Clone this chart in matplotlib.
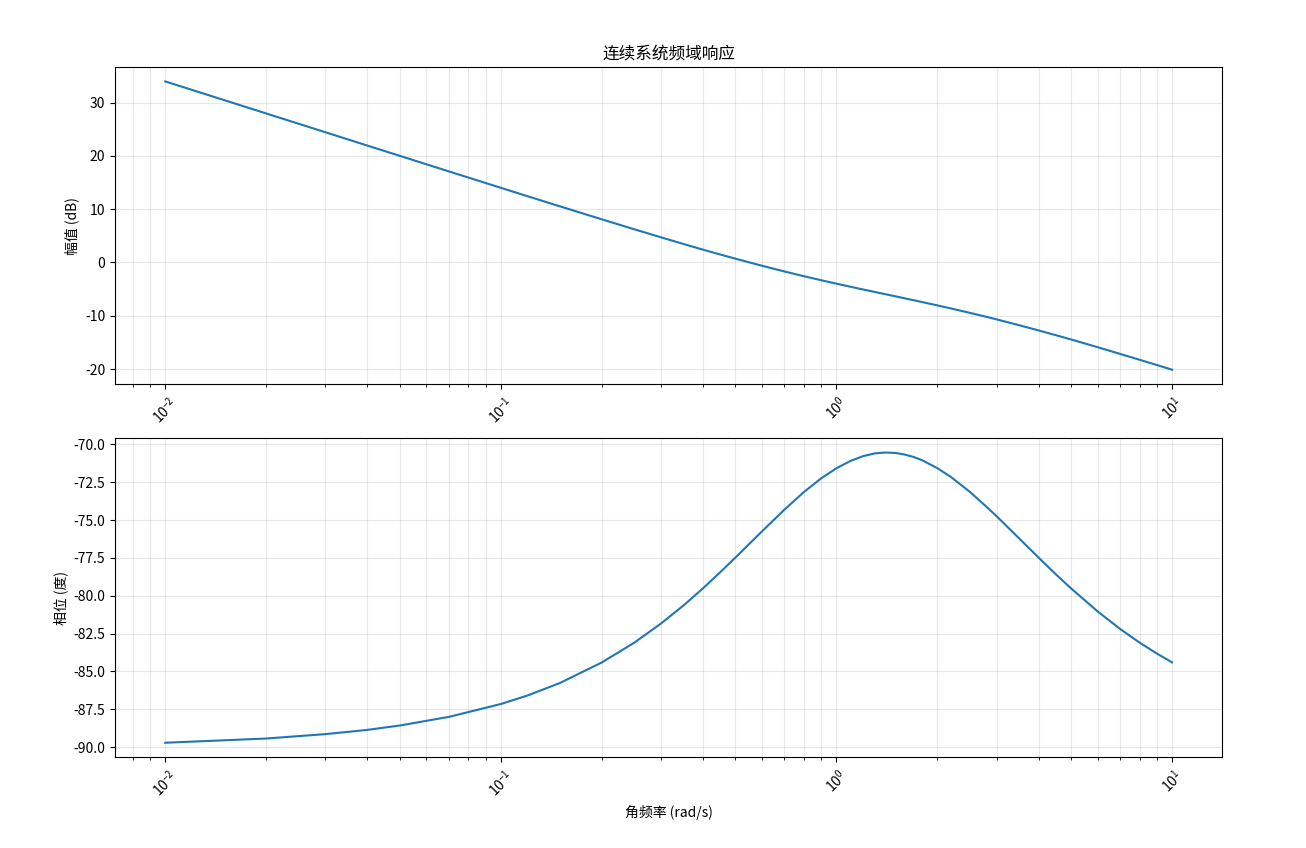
import matplotlib
matplotlib.use("Agg")
import matplotlib.pyplot as plt

plt.rcParams["font.family"] = ["Noto Sans CJK SC", "DejaVu Sans"]
plt.rcParams["axes.unicode_minus"] = False

# valores
freq = [0.01, 0.02, 0.03, 0.04, 0.05, 0.07, 0.1, 0.12, 0.15, 0.2, 0.25, 0.3,
        0.35, 0.4, 0.45, 0.5, 0.6, 0.7, 0.8, 0.9, 1.0, 1.1, 1.2, 1.3, 1.4,
        1.5, 1.6, 1.7, 1.8, 2.0, 2.2, 2.5, 2.8, 3.0, 3.5, 4.0, 4.5, 5.0, 6.0,
        7.0, 8.0, 9.0, 10.0]
mag_db = [33.98, 27.96, 24.44, 21.94, 20.01, 17.09, 14.01, 12.44, 10.53, 8.09,
          6.22, 4.72, 3.47, 2.41, 1.50, 0.71, -0.62, -1.69, -2.58, -3.33,
          -3.98, -4.55, -5.07, -5.53, -5.96, -6.36, -6.74, -7.09, -7.43, -8.06,
          -8.65, -9.46, -10.21, -10.68, -11.77, -12.75, -13.64, -14.45, -15.90,
          -17.16, -18.26, -19.24, -20.13]
phase_deg = [-89.71, -89.43, -89.14, -88.86, -88.57, -88.00, -87.15, -86.59,
             -85.76, -84.40, -83.09, -81.83, -80.64, -79.51, -78.45, -77.47,
             -75.74, -74.30, -73.14, -72.24, -71.57, -71.09, -70.77, -70.59,
             -70.53, -70.56, -70.67, -70.83, -71.04, -71.57, -72.17, -73.14,
             -74.12, -74.74, -76.20, -77.47, -78.57, -79.51, -81.03, -82.19,
             -83.09, -83.81, -84.40]

fig = plt.figure(figsize=(13.06, 8.48), dpi=100)
ax1 = fig.add_axes([0.088, 0.547, 0.848, 0.374])
ax2 = fig.add_axes([0.088, 0.107, 0.848, 0.3765])

ax1.semilogx(freq, mag_db, color="#1f77b4", linewidth=1.5)
ax1.set_title("连续系统频域响应", fontsize=12)
ax1.set_ylabel("幅值 (dB)")
ax1.grid(True, which="both", alpha=0.3)
ax1.tick_params(axis="x", rotation=45)

ax2.semilogx(freq, phase_deg, color="#1f77b4", linewidth=1.5)
ax2.set_xlabel("角频率 (rad/s)")
ax2.set_ylabel("相位 (度)")
ax2.grid(True, which="both", alpha=0.3)
ax2.tick_params(axis="x", rotation=45)

fig.savefig("out.png", dpi=100)
